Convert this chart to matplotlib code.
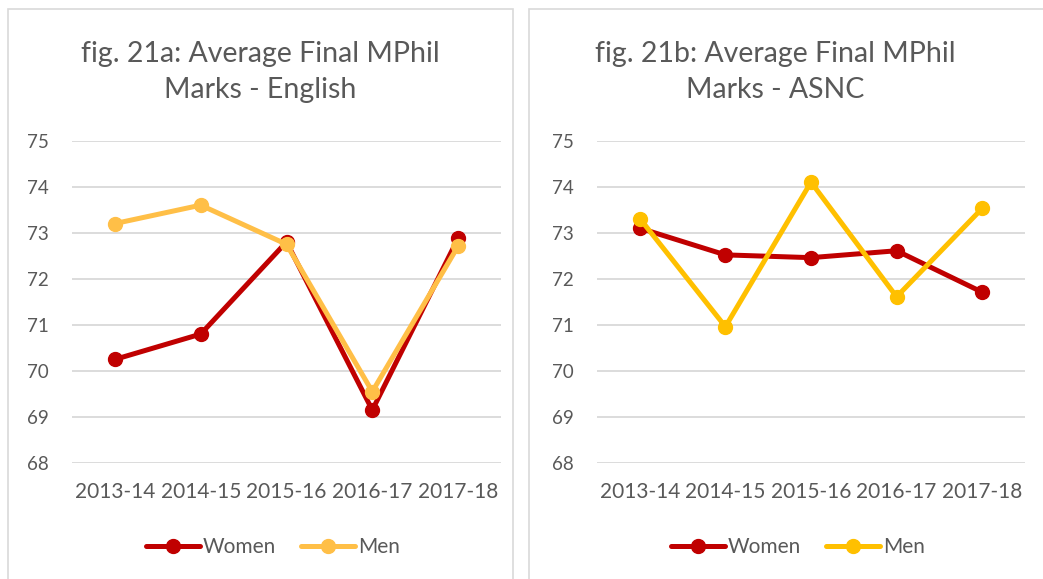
import matplotlib
matplotlib.use("Agg")
import matplotlib.pyplot as plt
from matplotlib.patches import Rectangle

years = ["2013-14", "2014-15", "2015-16", "2016-17", "2017-18"]
eng_women = [70.25, 70.80, 72.80, 69.15, 72.88]
eng_men = [73.20, 73.60, 72.75, 69.55, 72.71]
asnc_women = [73.10, 72.52, 72.46, 72.61, 71.71]
asnc_men = [73.31, 70.96, 74.10, 71.61, 73.53]
titles = ["fig. 21a: Average Final MPhil\nMarks - English",
          "fig. 21b: Average Final MPhil\nMarks - ASNC"]
yticks = [68, 69, 70, 71, 72, 73, 74, 75]

W, H = 1043, 579
plt.rcParams['font.family'] = ['Lato', 'DejaVu Sans']
fig = plt.figure(figsize=(W / 100, H / 100), dpi=100)
fig.patch.set_facecolor("white")

text_col = "#595959"
grid_col = "#D9D9D9"
red = "#C00000"

# panel borders
fig.add_artist(Rectangle((8 / W, -0.05), (513 - 8) / W, 1 - 9 / H + 0.05,
                         transform=fig.transFigure, fill=False, ec=grid_col, lw=1.2))
fig.add_artist(Rectangle((529 / W, -0.05), (1060 - 529) / W, 1 - 9 / H + 0.05,
                         transform=fig.transFigure, fill=False, ec=grid_col, lw=1.2))

panels = [
    (72, 501, eng_women, eng_men, "#FFBF47", 260, 273),
    (597, 1025, asnc_women, asnc_men, "#FFC000", 775, 798),
]
top_px, bot_px = 140.7, 463

for i, (x0, x1, women, men, mcol, tx, lx) in enumerate(panels):
    ax = fig.add_axes([x0 / W, 1 - bot_px / H, (x1 - x0) / W, (bot_px - top_px) / H])
    xs = list(range(len(years)))
    ax.plot(xs, women, color=red, lw=3.6, marker="o", ms=10, label="Women",
            solid_capstyle="round", zorder=3)
    ax.plot(xs, men, color=mcol, lw=3.6, marker="o", ms=10, label="Men",
            solid_capstyle="round", zorder=4)
    ax.set_xlim(-0.5, len(years) - 0.5)
    ax.set_ylim(68, 75)
    ax.set_yticks(yticks)
    ax.set_xticks(xs)
    ax.set_xticklabels(years)
    ax.yaxis.grid(True, color=grid_col, lw=1.3)
    ax.set_axisbelow(True)
    for s in ax.spines.values():
        s.set_visible(False)
    ax.tick_params(axis="y", length=0, colors=text_col, labelsize=13.5, pad=17)
    ax.tick_params(axis="x", length=0, colors=text_col, labelsize=15, pad=14)
    fig.text(tx / W, 1 - 72 / H, titles[i], ha="center", va="center",
             fontsize=20.5, color=text_col, linespacing=1.45)
    leg = fig.legend(handles=ax.get_lines(), labels=["Women", "Men"],
                     loc="center", bbox_to_anchor=(lx / W, 1 - 547 / H),
                     ncol=2, frameon=False, fontsize=15, handlelength=2.6,
                     handletextpad=0.12, columnspacing=1.2)
    for t in leg.get_texts():
        t.set_color(text_col)

fig.savefig("out.png", dpi=100, facecolor="white")
